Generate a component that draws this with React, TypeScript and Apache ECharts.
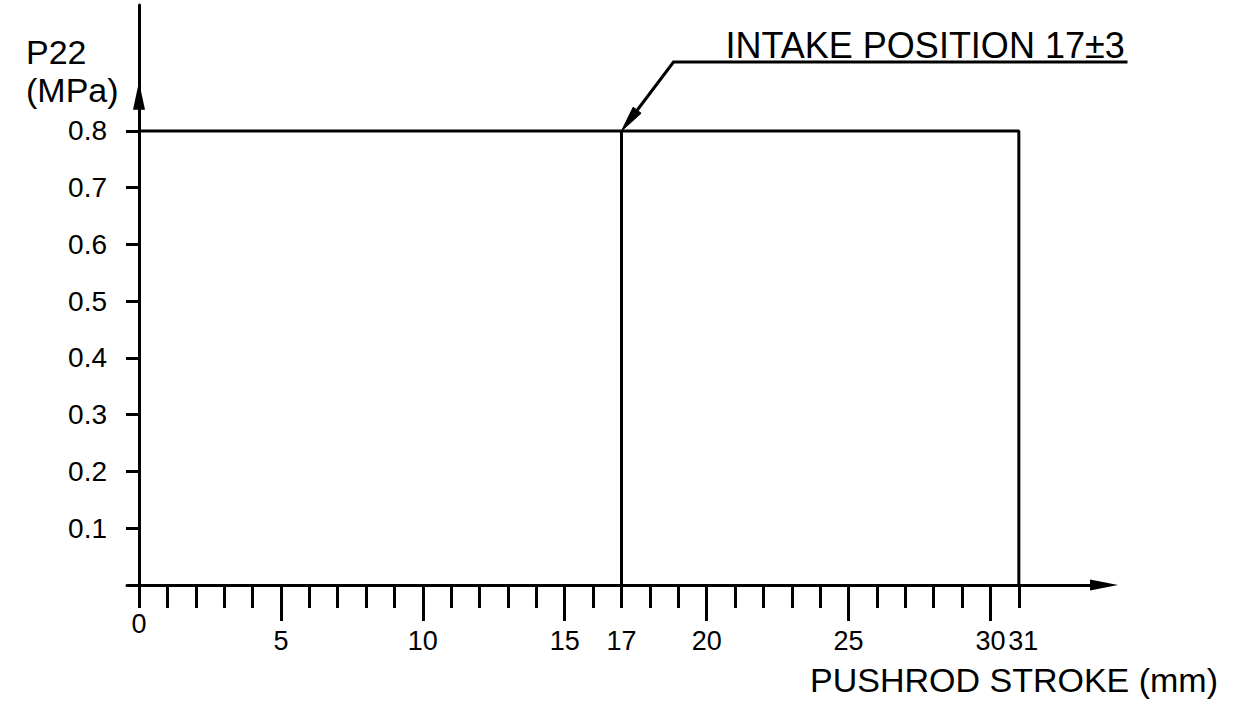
import React, { useEffect, useRef } from 'react';
import * as echarts from 'echarts';

// ---- data ----
const strokeMinorTicks = [0, 1, 2, 3, 4, 5, 6, 7, 8, 9, 10, 11, 12, 13, 14, 15, 16, 17, 18, 19, 20, 21, 22, 23, 24, 25, 26, 27, 28, 29, 30, 31];
const strokeMajorTicks = [5, 10, 15, 20, 25, 30];
const strokeLabels = [5, 10, 15, 17, 20, 25, 30];
const strokeEndLabel = [31];
const strokeOriginLabel = [0];
const pressureTicks = [0.1, 0.2, 0.3, 0.4, 0.5, 0.6, 0.7, 0.8];
const profileStroke = [0, 31, 31];
const profilePressure = [0.8, 0.8, 0];
const intakeStroke = [17, 17];
const intakePressure = [0, 0.8];
const intakeAnchor = [17, 0.8];
const yArrowTip = 0.862;
const annotationText = 'INTAKE POSITION 17±3';
const yAxisTitle = 'P22\n(MPa)';
const xAxisTitle = 'PUSHROD STROKE (mm)';

const FONT = '"Liberation Sans", Arial, sans-serif';
const BLACK = '#000';

export default function App() {
  const ref = useRef<HTMLDivElement>(null);
  useEffect(() => {
    if (!ref.current) return;
    const chart = echarts.init(ref.current, null, { renderer: 'svg' });
    const xMin = -0.4227;
    const xMax = 34;
    const yMax = 1.022;
    const baseX = {
      type: 'value',
      min: xMin,
      max: xMax,
      position: 'bottom',
      splitLine: { show: false },
    };
    const labelStyle = {
      show: true,
      color: BLACK,
      fontFamily: FONT,
      fontSize: 27,
      hideOverlap: false,
      showMinLabel: true,
      showMaxLabel: true,
      formatter: (v: number) => String(Math.round(v)),
    };
    chart.setOption({
      animation: false,
      backgroundColor: '#fff',
      title: [
        {
          text: yAxisTitle,
          left: 26,
          top: 33,
          padding: 0,
          textStyle: { fontFamily: FONT, fontSize: 34, fontWeight: 'normal', color: BLACK, lineHeight: 38 },
        },
        {
          text: xAxisTitle,
          left: 810,
          top: 663,
          padding: 0,
          textStyle: { fontFamily: FONT, fontSize: 34, fontWeight: 'normal', color: BLACK, lineHeight: 34 },
        },
      ],
      grid: { left: 127, top: 5, width: 977, height: 580, outerBoundsMode: 'none', containLabel: false },
      xAxis: [
        {
          ...baseX,
          axisLine: {
            show: true,
            symbol: ['none', 'triangle'],
            symbolSize: [11, 28],
            lineStyle: { color: BLACK, width: 3 },
          },
          axisTick: { show: true, customValues: strokeMinorTicks, length: 23, lineStyle: { color: BLACK, width: 3 } },
          axisLabel: { ...labelStyle, customValues: strokeOriginLabel, margin: 25 },
        },
        {
          ...baseX,
          axisLine: { show: false },
          axisTick: { show: true, customValues: strokeMajorTicks, length: 36, lineStyle: { color: BLACK, width: 3 } },
          axisLabel: { ...labelStyle, customValues: strokeLabels, margin: 42 },
        },
        {
          ...baseX,
          axisLine: { show: false },
          axisTick: { show: false },
          axisLabel: { ...labelStyle, customValues: strokeEndLabel, margin: 42, padding: [0, 0, 0, 9] },
        },
      ],
      yAxis: {
        type: 'value',
        min: 0,
        max: yMax,
        splitLine: { show: false },
        axisLine: { show: true, onZero: true, lineStyle: { color: BLACK, width: 3 } },
        axisTick: { show: true, customValues: pressureTicks, length: 13, lineStyle: { color: BLACK, width: 3 } },
        axisLabel: {
          show: true,
          customValues: pressureTicks,
          margin: 20,
          color: BLACK,
          fontFamily: FONT,
          fontSize: 28,
          padding: [6, 0, 0, 0],
          formatter: (v: number) => v.toFixed(1),
        },
      },
      series: [
        {
          type: 'line',
          name: 'profile',
          xAxisIndex: 0,
          yAxisIndex: 0,
          silent: true,
          symbol: 'none',
          lineStyle: { color: BLACK, width: 3 },
          data: profileStroke.map((x, i) => [x, profilePressure[i]]),
        },
        {
          type: 'line',
          name: 'intake',
          xAxisIndex: 0,
          yAxisIndex: 0,
          silent: true,
          symbol: 'none',
          lineStyle: { color: BLACK, width: 3 },
          data: intakeStroke.map((x, i) => [x, intakePressure[i]]),
          markLine: {
            silent: true,
            animation: false,
            label: { show: false },
            lineStyle: { color: BLACK, width: 3, type: 'solid' },
            data: [
              [
                { coord: [0, 0], symbol: 'none' },
                { coord: [0, yArrowTip], symbol: 'triangle', symbolSize: [12, 28] },
              ],
            ],
          },
        },
      ],
    });

    // annotation leader anchored at the intake point
    const p = chart.convertToPixel({ xAxisIndex: 0, yAxisIndex: 0 }, intakeAnchor) as number[];
    const ax = p[0];
    const ay = p[1];
    const ex = ax + 52;
    const ey = ay - 69;
    const dx = ax - ex;
    const dy = ay - ey;
    const len = Math.sqrt(dx * dx + dy * dy);
    const ux = dx / len;
    const uy = dy / len;
    const headLen = 26;
    const headHalf = 5;
    const bx = ax - ux * headLen;
    const by = ay - uy * headLen;
    const px = -uy;
    const py = ux;
    chart.setOption({
      graphic: [
        {
          type: 'polyline',
          silent: true,
          shape: { points: [[ex + 454, ey], [ex, ey], [bx, by]] },
          style: { stroke: BLACK, lineWidth: 3, fill: null },
        },
        {
          type: 'polygon',
          silent: true,
          shape: {
            points: [
              [ax, ay],
              [bx + px * headHalf, by + py * headHalf],
              [bx - px * headHalf, by - py * headHalf],
            ],
          },
          style: { fill: BLACK, stroke: BLACK, lineWidth: 1 },
        },
        {
          type: 'text',
          silent: true,
          x: ex + 52,
          y: ey - 16,
          style: {
            text: annotationText,
            fill: BLACK,
            font: `36px ${FONT}`,
            align: 'left',
            verticalAlign: 'middle',
          },
        },
      ],
    });

    return () => chart.dispose();
  }, []);

  return (
    <div
      ref={ref}
      style={{ position: 'absolute', left: 0, top: 0, width: 1241, height: 719, background: '#fff' }}
    />
  );
}
